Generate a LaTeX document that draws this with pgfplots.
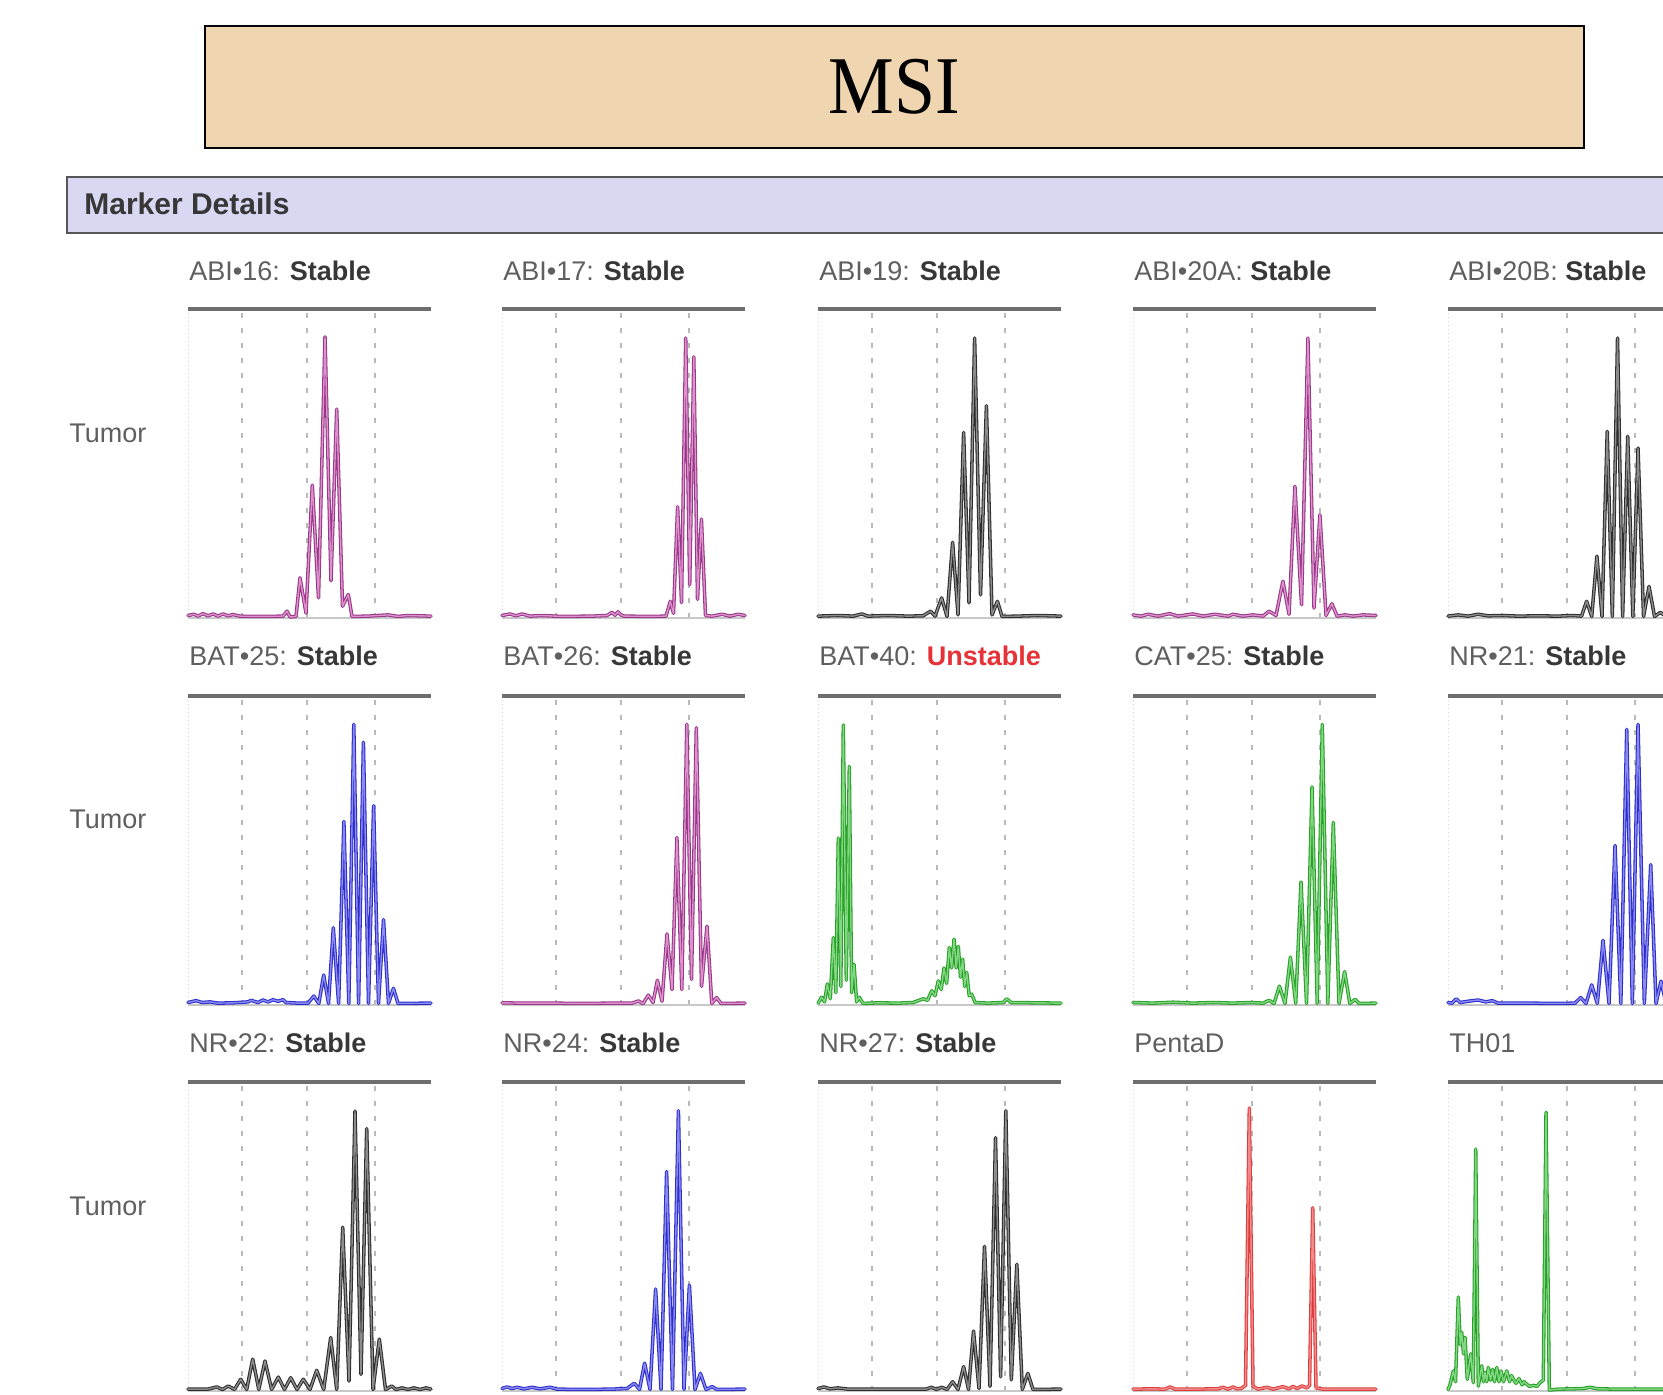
\documentclass[border=0pt]{standalone}
\usepackage{fontspec}
\setmainfont{Liberation Sans}
\newfontfamily\msifont{Liberation Serif}
\usepackage{graphicx}
\usepackage{pgfplots}
\usepackage{pgfplotstable}
\pgfplotsset{compat=1.18}

\definecolor{titlefill}{RGB}{239,213,176}
\definecolor{barfill}{RGB}{217,216,243}
\definecolor{bargray}{RGB}{85,85,90}
\definecolor{topgray}{RGB}{110,110,110}
\definecolor{basegray}{RGB}{200,200,200}
\definecolor{gridgray}{RGB}{185,185,185}
\definecolor{labgray}{RGB}{95,95,95}
\definecolor{labdark}{RGB}{55,55,55}
\definecolor{unstable}{RGB}{230,50,55}
\definecolor{magD}{RGB}{150,55,135}
\definecolor{magL}{RGB}{222,145,205}
\definecolor{blkD}{RGB}{45,45,45}
\definecolor{blkL}{RGB}{140,140,140}
\definecolor{bluD}{RGB}{45,45,205}
\definecolor{bluL}{RGB}{140,140,240}
\definecolor{grnD}{RGB}{40,160,40}
\definecolor{grnL}{RGB}{130,215,130}
\definecolor{redD}{RGB}{220,60,60}
\definecolor{redL}{RGB}{242,140,140}

% ABI-16
\pgfplotstableread[row sep=\\]{x y\\ 0 0.8\\ 6 1.2\\ 10 0.6\\ 15 1.4\\ 20 0.7\\ 25 1.3\\ 30 0.6\\ 35 1.3\\ 40 0.7\\ 45 1.1\\ 52 0.6\\ 60 0.5\\ 80 0.5\\ 95 0.6\\ 99 2.2\\ 102 0.3\\ 108 0.5\\ 112 13\\ 118 1.6\\ 124.3 43\\ 130.5 6.5\\ 137 91\\ 143 12\\ 148.7 67.6\\ 154.5 3.8\\ 160.3 7.6\\ 164 0.5\\ 180 0.6\\ 200 1\\ 210 0.5\\ 220 0.8\\ 243 0.6\\}\pA
% ABI-17
\pgfplotstableread[row sep=\\]{x y\\ 0 0.8\\ 8 1.3\\ 14 0.7\\ 20 1.3\\ 28 0.6\\ 40 0.8\\ 60 0.5\\ 90 0.6\\ 105 0.8\\ 110 1.8\\ 113 0.9\\ 116 2\\ 119 1\\ 122 0.6\\ 150 0.5\\ 164 0.6\\ 168.3 5.4\\ 171.5 1.5\\ 175.6 36\\ 179.5 5\\ 183.7 90.6\\ 187.7 10.8\\ 191.8 84.5\\ 195.5 6\\ 199.4 32\\ 203.5 0.8\\ 210 0.6\\ 220 1.2\\ 228 0.6\\ 236 1.2\\ 243 0.8\\}\pB
% ABI-19
\pgfplotstableread[row sep=\\]{x y\\ 0 0.6\\ 20 0.8\\ 35 0.6\\ 43.7 1.3\\ 50 0.6\\ 70 0.8\\ 90 0.6\\ 105 0.7\\ 112.6 2.2\\ 117 0.6\\ 123.6 6.5\\ 129 0.5\\ 134.6 24.5\\ 140 1\\ 145.6 60\\ 151 4.9\\ 156.6 90.6\\ 162.5 7.5\\ 168.4 68.7\\ 174 1\\ 179.4 5.4\\ 184 0.5\\ 200 0.6\\ 220 0.8\\ 243 0.6\\}\pC
% ABI-20A
\pgfplotstableread[row sep=\\]{x y\\ 0 1\\ 8 0.6\\ 15 1.2\\ 25 0.6\\ 36.6 1.4\\ 45 0.6\\ 60 1.3\\ 70 0.6\\ 82 1.2\\ 95 0.6\\ 100 1.2\\ 110 0.6\\ 120 1\\ 130 0.6\\ 136 2.2\\ 143 0.8\\ 149.9 11.9\\ 156 1.2\\ 161.9 42.6\\ 168.5 4.3\\ 174.9 90.6\\ 181 3.2\\ 186.9 33.4\\ 193 0.8\\ 198.9 4.6\\ 204 0.6\\ 212 1\\ 220 0.6\\ 230 1\\ 243 0.8\\}\pD
% ABI-20B
\pgfplotstableread[row sep=\\]{x y\\ 0 0.6\\ 10 1\\ 20 0.6\\ 30 1.2\\ 40 0.7\\ 55 0.8\\ 70 0.6\\ 90 0.7\\ 110 0.6\\ 125 0.8\\ 133.5 0.6\\ 138.6 5.4\\ 143.7 0.5\\ 148.9 20\\ 154 0.5\\ 159.2 60.4\\ 164.3 0.5\\ 169.5 90.6\\ 174.6 0.5\\ 179.7 58.8\\ 184.8 0.5\\ 190 55\\ 195.5 0.5\\ 201 10.2\\ 206.5 0.5\\ 212.3 1.8\\ 218 0.5\\ 243 0.6\\}\pE
% BAT-25
\pgfplotstableread[row sep=\\]{x y\\ 0 0.8\\ 8 1.4\\ 14 0.8\\ 22 1\\ 30 0.6\\ 45 0.7\\ 60 1\\ 63 1.5\\ 70 0.8\\ 75 1.6\\ 80 1\\ 85 1.7\\ 90 1.2\\ 95 1.7\\ 98 0.8\\ 110 0.6\\ 120 0.6\\ 125.8 2.9\\ 130.8 0.5\\ 135.7 9.7\\ 140.5 0.5\\ 145.3 25\\ 150.6 0.5\\ 155.9 59.4\\ 160.8 0.5\\ 165.8 90.8\\ 170.6 0.5\\ 175.4 85\\ 180.5 0.5\\ 185.6 64.5\\ 190.5 0.5\\ 195.5 27.6\\ 200.5 0.5\\ 205.4 5.4\\ 210 0.5\\ 243 0.6\\}\pF
% BAT-26
\pgfplotstableread[row sep=\\]{x y\\ 0 0.7\\ 20 0.6\\ 50 0.6\\ 80 0.5\\ 110 0.6\\ 130 0.6\\ 136.4 1.3\\ 141 0.4\\ 146.3 3.2\\ 151 0.8\\ 155.4 8\\ 160 1.2\\ 165 23\\ 170 5\\ 174.9 54.2\\ 179.8 5\\ 184.8 90.8\\ 189.5 8.3\\ 194.3 89.7\\ 199.5 6\\ 205 25.5\\ 209.8 0.5\\ 214.5 2.4\\ 219 0.5\\ 243 0.6\\}\pG
% BAT-40
\pgfplotstableread[row sep=\\]{x y\\ 0 0.6\\ 3.7 2.5\\ 6.5 1\\ 9.3 6.8\\ 12.3 2\\ 15.3 21.8\\ 17.8 4\\ 20.3 54\\ 22.8 6\\ 25.3 90.6\\ 28.3 8\\ 31.3 77.2\\ 33.6 4\\ 36 13.2\\ 38.6 1\\ 41.3 2.5\\ 45 0.5\\ 60 0.7\\ 80 0.6\\ 95 0.8\\ 105.3 2\\ 109.5 1.5\\ 113.7 4.6\\ 117 3\\ 120.3 7.8\\ 123.2 5\\ 126 12\\ 128.6 7\\ 131.3 18.6\\ 133.6 12\\ 136 21.3\\ 138.2 12\\ 140.3 19\\ 142.5 9\\ 144.7 14.8\\ 146.7 6\\ 148.7 10.5\\ 151.2 3\\ 153.7 3.5\\ 157 0.8\\ 170 0.6\\ 185 0.8\\ 188.7 2\\ 193 0.8\\ 243 0.6\\}\pH
% CAT-25
\pgfplotstableread[row sep=\\]{x y\\ 0 0.8\\ 20 0.6\\ 40 0.9\\ 60 0.6\\ 80 0.8\\ 100 0.6\\ 118 0.8\\ 130 0.6\\ 136.1 1.5\\ 141 0.5\\ 146.4 6.1\\ 152 0.5\\ 157.4 15.5\\ 162.7 0.5\\ 168 39.8\\ 173.5 0.5\\ 179 70.6\\ 184.2 0.5\\ 189.3 90.8\\ 194.8 0.5\\ 200.3 59.1\\ 206 0.5\\ 211.6 10.8\\ 216.8 0.5\\ 222 1.8\\ 226 0.5\\ 243 0.6\\}\pI
% NR-21
\pgfplotstableread[row sep=\\]{x y\\ 0 0.8\\ 4 0.6\\ 8.2 2\\ 12 0.8\\ 20 1.2\\ 30 1.6\\ 38 1\\ 44.2 1.4\\ 50 0.6\\ 80 0.6\\ 110 0.5\\ 127 0.6\\ 132.7 2.4\\ 138 0.5\\ 143.7 6.5\\ 149.3 0.5\\ 155 20.9\\ 161 0.5\\ 167 51.6\\ 172.8 0.5\\ 178.7 89.2\\ 184.3 0.5\\ 190 90.8\\ 196.3 0.5\\ 202.7 45.4\\ 208 0.5\\ 213 7.7\\ 218 0.5\\ 243 0.6\\}\pJ
% NR-22
\pgfplotstableread[row sep=\\]{x y\\ 0 0.6\\ 20 0.6\\ 28.7 1.3\\ 34.5 0.5\\ 40.3 1.6\\ 46.5 0.5\\ 52.7 3.8\\ 58.7 0.5\\ 64.7 10.3\\ 70.8 0.5\\ 77 9.7\\ 83.6 0.5\\ 90.3 4.5\\ 96.5 0.5\\ 102.7 4.3\\ 109 0.5\\ 115.3 3.8\\ 122 0.5\\ 128.7 6.7\\ 135.7 0.5\\ 142.7 17.3\\ 148.7 0.5\\ 154.7 53\\ 161 3.2\\ 167 90.6\\ 173 5.4\\ 178.7 84.9\\ 185 0.5\\ 191.3 16.8\\ 197.5 0.5\\ 203.7 1.6\\ 208 0.5\\ 214 1\\ 220 0.5\\ 226 1\\ 232 0.5\\ 238 1\\ 243 0.6\\}\pK
% NR-24
\pgfplotstableread[row sep=\\]{x y\\ 0 0.8\\ 5 1.3\\ 10 0.8\\ 15 1.2\\ 22 0.7\\ 30 1.2\\ 38 0.7\\ 48 1.2\\ 55 0.6\\ 80 0.5\\ 110 0.6\\ 125 0.8\\ 132.3 2.5\\ 137.5 0.5\\ 142.6 9\\ 148 0.5\\ 153.6 33\\ 159 0.5\\ 164.6 71\\ 170.5 0.5\\ 176.4 90.7\\ 182 0.5\\ 187.4 34.3\\ 193 0.5\\ 198.4 5.7\\ 204 0.5\\ 210.1 1.4\\ 215 0.5\\ 243 0.6\\}\pL
% NR-27
\pgfplotstableread[row sep=\\]{x y\\ 0 0.8\\ 6 1.3\\ 12 0.7\\ 20 1\\ 30 0.6\\ 60 0.6\\ 90 0.6\\ 108 0.6\\ 113.4 1.2\\ 118.5 0.5\\ 123.6 1.2\\ 129 0.5\\ 134.6 3\\ 140 0.5\\ 145.6 7.9\\ 150.5 0.5\\ 155.5 19.4\\ 161 0.8\\ 166.5 46.8\\ 172 1.5\\ 177.5 82\\ 182.6 4.6\\ 187.8 90.7\\ 193.3 3.6\\ 198.8 41\\ 204.3 0.5\\ 209.8 5.7\\ 215 0.5\\ 243 0.6\\}\pM
% PentaD
\pgfplotstableread[row sep=\\]{x y\\ 0 0.6\\ 20 0.7\\ 32 0.6\\ 37 1.3\\ 42 0.6\\ 60 0.6\\ 85 0.7\\ 90 1.2\\ 95 0.6\\ 100 1.3\\ 104 0.7\\ 108 0.8\\ 112.5 1.8\\ 116.3 91.6\\ 120 1.5\\ 125 0.6\\ 134 1.2\\ 140 0.6\\ 150 1.4\\ 156 0.7\\ 160 1.5\\ 164 0.8\\ 169 1.6\\ 174 1\\ 176.5 1.8\\ 179.7 59.3\\ 183 1\\ 190 0.6\\ 243 0.6\\}\pN
% TH01
\pgfplotstableread[row sep=\\]{x y\\ 0 0.5\\ 2 2\\ 5.3 6.5\\ 7.5 3\\ 10.3 30.4\\ 12.2 15\\ 13.7 19\\ 15.5 12\\ 17 17.4\\ 19.3 3.8\\ 22.7 12\\ 25.3 2.7\\ 27.7 78.3\\ 30.3 1.6\\ 33.7 8.2\\ 35.5 3\\ 37 6\\ 38.7 3\\ 40.3 7.6\\ 42.5 3.5\\ 44.5 7\\ 46.5 3\\ 48.7 7.6\\ 51 3\\ 53 6.5\\ 55.5 3\\ 58.7 6.5\\ 61.5 3\\ 63.5 5\\ 65.3 3.8\\ 68 2.5\\ 71 4\\ 74 2\\ 76 3\\ 78.7 2.2\\ 81.5 1.5\\ 85.3 1.8\\ 89 1.5\\ 92 2.7\\ 95.3 3.5\\ 98 90.2\\ 101.3 0.3\\ 110 0.6\\ 125 0.7\\ 135 0.8\\ 142 1.2\\ 150 0.7\\ 170 0.6\\ 243 0.6\\}\pO

\pgfplotsset{
  panel/.style={
    width=121.5pt, height=154.5pt, scale only axis,
    anchor=south west,
    xmin=0, xmax=243, ymin=0, ymax=100,
    clip=false,
    axis line style={draw=none},
    xtick={54,119,187}, ytick=\empty,
    xticklabels={}, tick style={draw=none},
    xmajorgrids,
    major grid style={gridgray, line width=0.55pt, dash pattern=on 2.5pt off 5pt},
  }
}

\newcommand\panel[5]{%
\begin{axis}[panel, at={(#1pt,#2pt)}]
\draw[basegray, line width=1.4pt] (axis cs:0,0) -- (axis cs:243,0);
\draw[gray!35, line width=0.4pt, dash pattern=on 0.6pt off 1.4pt] (axis cs:0,0) -- (axis cs:0,100);
\draw[topgray, line width=1.65pt] (axis cs:0,100) -- (axis cs:243,100);
\addplot[#4, line width=1.75pt, line join=round, line cap=round, no marks] table {#3};
\addplot[#5, line width=0.7pt, line join=round, line cap=round, no marks] table {#3};
\end{axis}}

\newcommand\lab{\fontsize{13.5pt}{16pt}\selectfont}

\begin{document}
\begin{tikzpicture}
\path[use as bounding box] (0pt,0pt) rectangle (831.5pt,697.5pt);
\clip (0pt,0pt) rectangle (831.5pt,697.5pt);
\fill[white] (0pt,0pt) rectangle (831.5pt,697.5pt);

% title box
\draw[fill=titlefill, draw=black, line width=1pt] (102.35pt,623.25pt) rectangle (791.75pt,684.25pt);
\node[anchor=base, inner sep=0pt, font=\msifont\fontsize{41pt}{41pt}\selectfont] at (447pt,640.5pt) {\scalebox{0.9}[1]{MSI}};

% marker details bar
\fill[barfill] (33.4pt,581pt) rectangle (845pt,609pt);
\draw[bargray, line width=1.3pt] (845pt,609pt) -- (33.4pt,609pt) -- (33.4pt,581pt) -- (845pt,581pt);
\node[anchor=base west, inner sep=0pt, text=labdark, font=\fontsize{15pt}{18pt}\selectfont\bfseries] at (42pt,590pt) {Marker Details};

% row labels
\foreach \yy in {476,283,89.5}{
  \node[anchor=base west, inner sep=0pt, text=labgray, font=\lab] at (34.5pt,\yy pt) {Tumor};
}

% row 1
\panel{94}{388.5}{\pA}{magD}{magL}
\panel{251}{388.5}{\pB}{magD}{magL}
\panel{409}{388.5}{\pC}{blkD}{blkL}
\panel{566.5}{388.5}{\pD}{magD}{magL}
\panel{724}{388.5}{\pE}{blkD}{blkL}
% row 2
\panel{94}{195}{\pF}{bluD}{bluL}
\panel{251}{195}{\pG}{magD}{magL}
\panel{409}{195}{\pH}{grnD}{grnL}
\panel{566.5}{195}{\pI}{grnD}{grnL}
\panel{724}{195}{\pJ}{bluD}{bluL}
% row 3
\panel{94}{2}{\pK}{blkD}{blkL}
\panel{251}{2}{\pL}{bluD}{bluL}
\panel{409}{2}{\pM}{blkD}{blkL}
\panel{566.5}{2}{\pN}{redD}{redL}
\panel{724}{2}{\pO}{grnD}{grnL}

% panel titles
\begin{scope}[every node/.style={anchor=base west, inner sep=0pt, text=labgray, font=\lab}]
\node at (94.5pt,557pt) {ABI•16: \textcolor{labdark}{\bfseries Stable}};
\node at (251.5pt,557pt) {ABI•17: \textcolor{labdark}{\bfseries Stable}};
\node at (409.5pt,557pt) {ABI•19: \textcolor{labdark}{\bfseries Stable}};
\node at (567pt,557pt) {ABI•20A: \textcolor{labdark}{\bfseries Stable}};
\node at (724.5pt,557pt) {ABI•20B: \textcolor{labdark}{\bfseries Stable}};
\node at (94.5pt,364.5pt) {BAT•25: \textcolor{labdark}{\bfseries Stable}};
\node at (251.5pt,364.5pt) {BAT•26: \textcolor{labdark}{\bfseries Stable}};
\node at (409.5pt,364.5pt) {BAT•40: \textcolor{unstable}{\bfseries Unstable}};
\node at (567pt,364.5pt) {CAT•25: \textcolor{labdark}{\bfseries Stable}};
\node at (724.5pt,364.5pt) {NR•21: \textcolor{labdark}{\bfseries Stable}};
\node at (94.5pt,171pt) {NR•22: \textcolor{labdark}{\bfseries Stable}};
\node at (251.5pt,171pt) {NR•24: \textcolor{labdark}{\bfseries Stable}};
\node at (409.5pt,171pt) {NR•27: \textcolor{labdark}{\bfseries Stable}};
\node at (567pt,171pt) {PentaD};
\node at (724.5pt,171pt) {TH01};
\end{scope}
\end{tikzpicture}
\end{document}
